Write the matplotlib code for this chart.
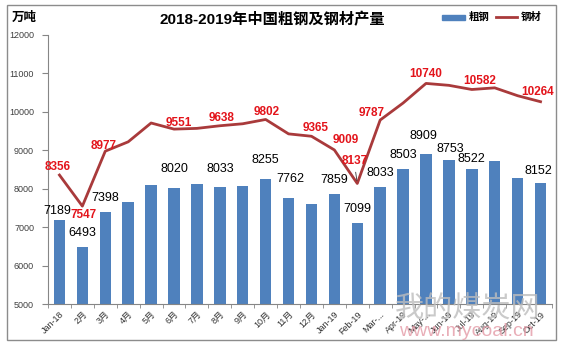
import matplotlib
matplotlib.use("Agg")
import matplotlib.pyplot as plt
from matplotlib.patches import Rectangle
from matplotlib.lines import Line2D
import numpy as np

plt.rcParams['font.family'] = ['Liberation Sans', 'Noto Sans CJK SC']

# ---------------- data (万吨) ----------------
months = ['Jan-18', '2月', '3月', '4月', '5月', '6月', '7月', '8月', '9月', '10月', '11月', '12月',
          'Jan-19', 'Feb-19', 'Mar-...', 'Apr-19', 'May-...', 'Jun-19', 'Jul-19', 'Aug-19', 'Sep-19', 'Oct-19']
crude_steel = [7189, 6493, 7398, 7660, 8100, 8020, 8123, 8033, 8070, 8255, 7762, 7590,
               7859, 7099, 8033, 8503, 8909, 8753, 8522, 8710, 8270, 8152]
steel_products = [8356, 7547, 8977, 9220, 9710, 9551, 9570, 9638, 9690, 9802, 9427, 9365,
                  9009, 8137, 9787, 10230, 10740, 10690, 10582, 10625, 10420, 10264]

# which points carry a value label
bar_labelled = [0, 1, 2, 5, 7, 9, 10, 12, 13, 14, 15, 16, 17, 18, 21]
line_labelled = [0, 1, 2, 5, 7, 9, 11, 12, 13, 14, 16, 18, 21]

# label nudges in pixels (dx, dy)
bar_offsets = {0: (-2, 3), 5: (0, 13), 7: (0, 12), 9: (0, 13), 10: (2, 13), 16: (-3, 12),
               17: (1, 5), 18: (0, 4), 21: (-2, 6)}
line_offsets = {0: (-2, 8), 1: (1, -9), 2: (-2, 5), 5: (5, 6), 7: (2, 8), 9: (1, 7), 11: (4, 8),
                12: (11, 10), 13: (-3, 22), 14: (-9, 7), 16: (0, 9), 18: (8, 8), 21: (-3, 10)}

bar_color = '#4F81BD'
line_color = '#A93A3B'
label_red = '#E3141B'

fig = plt.figure(figsize=(5.64, 3.51), dpi=100)
ax = fig.add_axes([48 / 564, 47 / 351, 504 / 564, 269 / 351])

x = np.arange(len(months))
ax.bar(x, crude_steel, width=0.5, color=bar_color, zorder=2)
ax.plot(x, steel_products, color=line_color, lw=2.0, zorder=3, solid_joinstyle='round')

for i in bar_labelled:
    dx, dy = bar_offsets.get(i, (0, 8))
    ax.annotate(str(crude_steel[i]), (x[i], crude_steel[i]), xytext=(dx, dy),
                textcoords='offset pixels', ha='center', va='bottom', fontsize=9,
                color='black', zorder=5)

for i in line_labelled:
    dx, dy = line_offsets.get(i, (0, 8))
    ax.annotate(str(steel_products[i]), (x[i], steel_products[i]), xytext=(dx, dy),
                textcoords='offset pixels', ha='center', va='center', fontsize=8.5,
                fontweight='bold', color=label_red, zorder=6)

# small leader line for the Feb-19 label
ax.annotate('', (x[13], steel_products[13]), xytext=(-2, 14), textcoords='offset pixels',
            arrowprops=dict(arrowstyle='-', color='#333333', lw=0.6))

ax.set_xlim(-0.5, len(months) - 0.5)
ax.set_ylim(5000, 12000)
ax.set_yticks(np.arange(5000, 12001, 1000))
ax.set_xticks(x)
ax.set_xticklabels(months, rotation=45, ha='right', rotation_mode='anchor', fontsize=6.5,
                   color='#333333')
ax.set_xticks(np.arange(-0.5, len(months), 1), minor=True)
ax.tick_params(axis='x', which='major', length=0, pad=4)
ax.tick_params(axis='x', which='minor', length=3, color='#868686')
ax.tick_params(axis='y', length=4, color='#868686', labelsize=6.5, labelcolor='#404040', pad=6)

for s in ['top', 'right']:
    ax.spines[s].set_visible(False)
for s in ['left', 'bottom']:
    ax.spines[s].set_color('#868686')
    ax.spines[s].set_linewidth(0.8)

# title and unit
fig.text(272 / 564, 1 - 20 / 351, '2018-2019年中国粗钢及钢材产量', ha='center', va='center',
         fontsize=11, fontweight='bold')
fig.text(12 / 564, 1 - 18 / 351, '万吨', ha='left', va='center', fontsize=9, fontweight='bold')

# legend
fig.patches.append(Rectangle((442 / 564, 1 - 20 / 351), 23 / 564, 5 / 351,
                             transform=fig.transFigure, color=bar_color))
fig.text(469 / 564, 1 - 17 / 351, '粗钢', ha='left', va='center', fontsize=7.5, fontweight='bold')
fig.lines.append(Line2D([496 / 564, 517 / 564], [1 - 17 / 351, 1 - 17 / 351],
                        transform=fig.transFigure, color=line_color, lw=2))
fig.text(521 / 564, 1 - 17 / 351, '钢材', ha='left', va='center', fontsize=7.5, fontweight='bold')

# watermark
fig.text(468 / 564, 1 - 310 / 351, '我的煤炭网', ha='center', va='center', fontsize=21,
         color='#bdbdbd', alpha=0.8, zorder=10)
fig.text(466 / 564, 1 - 331 / 351, 'www.mycoal.cn', ha='center', va='center', fontsize=14,
         color='#e49aa6', alpha=0.8, zorder=10)

# outer border
fig.patches.append(Rectangle((7 / 564, 1 - 340 / 351), 549 / 564, 335 / 351,
                             transform=fig.transFigure, fill=False, edgecolor='#8c8c8c', lw=1))

fig.savefig('out.png', dpi=100)
